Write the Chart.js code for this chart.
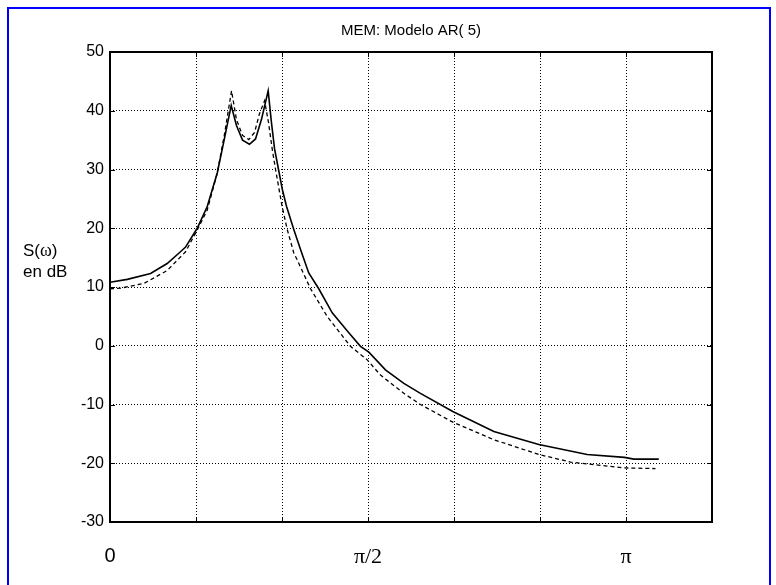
<!DOCTYPE html>
<html>
<head>
<meta charset="utf-8">
<title>MEM: Modelo AR( 5)</title>
<script src="https://cdn.jsdelivr.net/npm/chart.js@4.4.1/dist/chart.umd.min.js"></script>
<style>
  html, body { margin: 0; padding: 0; background: #fff; }
  #wrap { width: 776px; height: 585px; position: relative; }
</style>
</head>
<body>
<div id="wrap"><canvas id="memChart" width="776" height="585"></canvas></div>
<script>
// frequency (rad) and spectrum in dB for both estimates
const wSolid = [0, 0.105, 0.247, 0.348, 0.429, 0.460, 0.531, 0.592, 0.653, 0.691, 0.738, 0.770, 0.807, 0.849,
    0.886, 0.922, 0.963, 0.983, 1.002, 1.026, 1.050, 1.075, 1.119, 1.160, 1.210, 1.271, 1.353, 1.454, 1.525,
    1.576, 1.677, 1.789, 1.890, 2.087, 2.337, 2.611, 2.905, 3.132, 3.189, 3.341];
const sSolid = [10.8, 11.3, 12.3, 14.0, 16.0, 16.8, 20.0, 23.7, 29.4, 34.5, 40.9, 37.5, 35.0, 34.3,
    35.2, 38.5, 43.4, 38.0, 33.5, 30.0, 26.5, 23.7, 19.8, 16.4, 12.4, 9.7, 5.6, 2.2, -0.1,
    -1.1, -4.1, -6.4, -8.1, -11.2, -14.6, -16.8, -18.5, -19.0, -19.3, -19.3];

const wDashed = [0, 0.064, 0.206, 0.348, 0.460, 0.531, 0.592, 0.653, 0.697, 0.740, 0.770, 0.807, 0.845, 0.880,
    0.910, 0.941, 0.965, 0.988, 1.008, 1.048, 1.079, 1.119, 1.140, 1.221, 1.322, 1.464, 1.566, 1.647,
    1.789, 1.890, 2.087, 2.337, 2.611, 2.804, 3.132, 3.321];
const sDashed = [9.7, 9.8, 10.6, 12.8, 16.0, 19.7, 23.1, 29.4, 36.0, 43.4, 38.5, 35.8, 35.1, 36.3,
    39.5, 41.7, 38.0, 33.4, 30.0, 23.7, 19.8, 15.8, 14.6, 9.7, 5.0, -0.1, -2.4, -5.0,
    -8.1, -10.0, -13.0, -16.0, -18.5, -19.8, -20.8, -20.9];

const xTickLabels = ['0', '', '', 'π/2', '', '', 'π', ''];
const yTicks = [-30, -20, -10, 0, 10, 20, 30, 40, 50];

const toPoints = (xs, ys) => xs.map((x, i) => ({ x: x, y: ys[i] }));

// blue frame, title, y label, box and inward ticks
const decorations = {
    id: 'decorations',
    beforeDraw(chart) {
        const ctx = chart.ctx;
        ctx.save();
        ctx.fillStyle = '#fff';
        ctx.fillRect(0, 0, chart.width, chart.height);
        ctx.strokeStyle = '#0000ff';
        ctx.lineWidth = 2;
        ctx.strokeRect(8, 8, 762, 600);
        ctx.restore();
    },
    afterDraw(chart) {
        const ctx = chart.ctx;
        const a = chart.chartArea;
        const xs = chart.scales.x, ys = chart.scales.y;
        ctx.save();
        ctx.strokeStyle = '#000';
        ctx.lineWidth = 1;
        const tl = 5;
        ctx.beginPath();
        xs.ticks.forEach(t => {
            const px = Math.round(xs.getPixelForValue(t.value)) + 0.5;
            ctx.moveTo(px, a.bottom); ctx.lineTo(px, a.bottom - tl);
            ctx.moveTo(px, a.top); ctx.lineTo(px, a.top + tl);
        });
        ys.ticks.forEach(t => {
            const py = Math.round(ys.getPixelForValue(t.value)) + 0.5;
            ctx.moveTo(a.left, py); ctx.lineTo(a.left + tl, py);
            ctx.moveTo(a.right, py); ctx.lineTo(a.right - tl, py);
        });
        ctx.stroke();
        ctx.lineWidth = 2;
        ctx.strokeRect(a.left, a.top, a.right - a.left, a.bottom - a.top);

        ctx.fillStyle = '#000';
        ctx.textBaseline = 'alphabetic';
        ctx.textAlign = 'center';
        ctx.font = '15px "Liberation Sans", Arial, sans-serif';
        ctx.fillText('MEM: Modelo AR( 5)', (a.left + a.right) / 2, 35);

        // S(ω) with a serif omega
        ctx.textAlign = 'left';
        let x = 23;
        const sans = '17px "Liberation Sans", Arial, sans-serif';
        const serif = '18px "Liberation Serif", "Times New Roman", serif';
        [['S(', sans], ['ω', serif], [')', sans]].forEach(([s, f]) => {
            ctx.font = f;
            ctx.fillText(s, x, 256);
            x += ctx.measureText(s).width;
        });
        ctx.font = sans;
        ctx.fillText('en dB', 23, 277);
        ctx.restore();
    }
};

new Chart(document.getElementById('memChart'), {
    type: 'line',
    data: {
        datasets: [{
            label: 'AR(5)',
            data: toPoints(wSolid, sSolid),
            borderColor: '#000',
            borderWidth: 1.6,
            pointRadius: 0,
            tension: 0,
            fill: false
        }, {
            label: 'AR(5) b',
            data: toPoints(wDashed, sDashed),
            borderColor: '#000',
            borderWidth: 1.3,
            borderDash: [4, 3],
            pointRadius: 0,
            tension: 0,
            fill: false
        }]
    },
    options: {
        responsive: false,
        animation: false,
        layout: { padding: { top: 52, right: 64, left: 0, bottom: 0 } },
        plugins: { legend: { display: false }, tooltip: { enabled: false }, title: { display: false } },
        scales: {
            x: {
                type: 'linear',
                min: 0,
                max: 7 * Math.PI / 6,
                afterBuildTicks(scale) {
                    scale.ticks = xTickLabels.map((_, k) => ({ value: k * Math.PI / 6 }));
                },
                afterFit(scale) { scale.height = 63; },
                grid: { color: '#000', lineWidth: 1, drawTicks: false },
                border: { display: false, dash: [1, 2] },
                ticks: {
                    autoSkip: false,
                    maxRotation: 0,
                    padding: 22,
                    color: '#000',
                    font: (c) => c.index === 0
                        ? { family: '"Liberation Sans", Arial, sans-serif', size: 20 }
                        : { family: '"Liberation Serif", "Times New Roman", serif', size: 22 },
                    callback: (v, i) => xTickLabels[i]
                }
            },
            y: {
                min: -30,
                max: 50,
                afterBuildTicks(scale) {
                    scale.ticks = yTicks.map(v => ({ value: v }));
                },
                afterFit(scale) { scale.width = 110; },
                grid: { color: '#000', lineWidth: 1, drawTicks: false },
                border: { display: false, dash: [1, 2] },
                ticks: {
                    padding: 6,
                    color: '#000',
                    font: { family: '"Liberation Sans", Arial, sans-serif', size: 16 }
                }
            }
        }
    },
    plugins: [decorations]
});
</script>
</body>
</html>
